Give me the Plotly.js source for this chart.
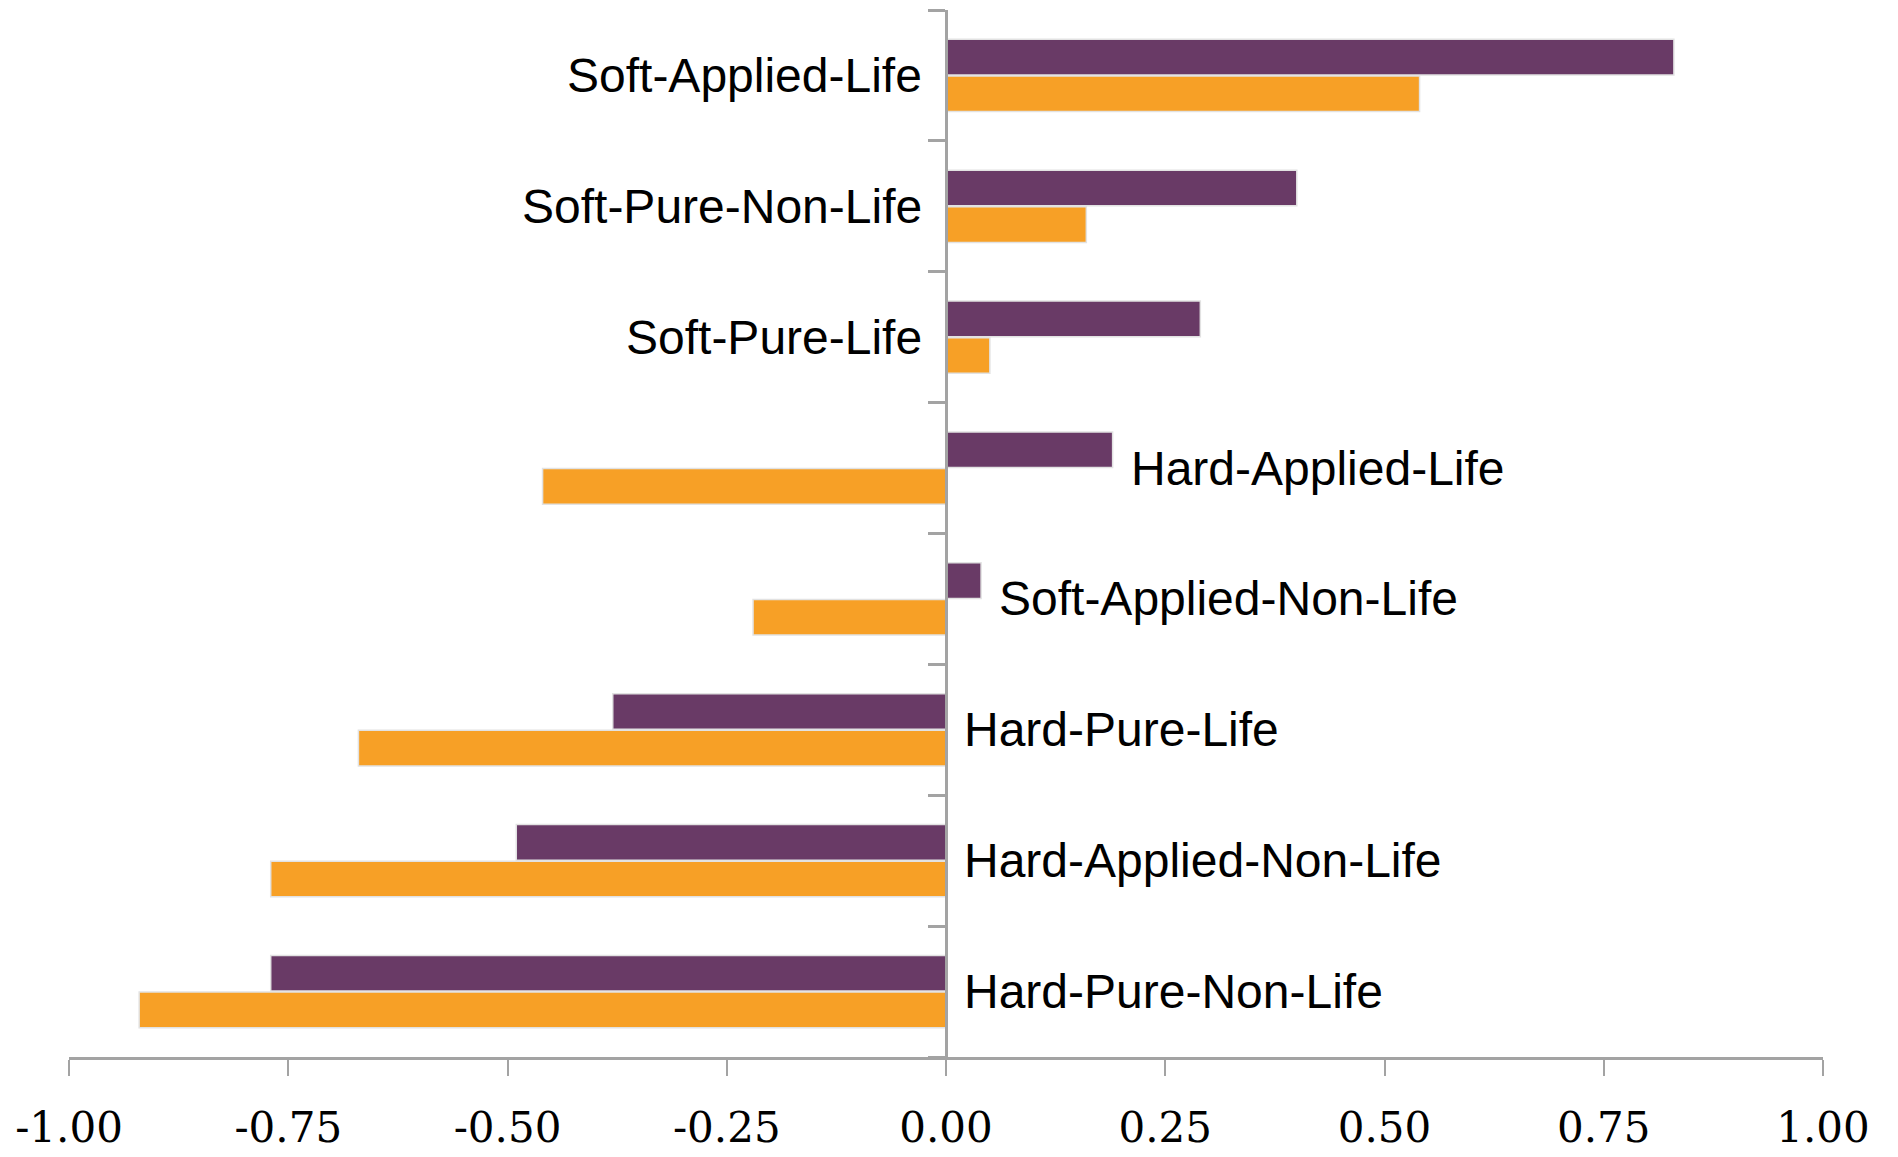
<!DOCTYPE html>
<html>
<head>
<meta charset="utf-8">
<script src="https://cdn.plot.ly/plotly-3.0.1.min.js"></script>
<style>
  html, body { margin: 0; padding: 0; background: #ffffff; }
  #chart { width: 1898px; height: 1157px; }
</style>
</head>
<body>
<div id="chart"></div>
<script>
// Categories, listed bottom to top
const categories = [
  "Hard-Pure-Non-Life",
  "Hard-Applied-Non-Life",
  "Hard-Pure-Life",
  "Soft-Applied-Non-Life",
  "Hard-Applied-Life",
  "Soft-Pure-Life",
  "Soft-Pure-Non-Life",
  "Soft-Applied-Life"
];
// Purple series (upper bar of each pair)
const purpleValues = [-0.77, -0.49, -0.38, 0.04, 0.19, 0.29, 0.40, 0.83];
// Orange series (lower bar of each pair)
const orangeValues = [-0.92, -0.77, -0.67, -0.22, -0.46, 0.05, 0.16, 0.54];
// X tick values and labels
const xTicks = [-1.00, -0.75, -0.50, -0.25, 0.00, 0.25, 0.50, 0.75, 1.00];
const xTickLabels = ["-1.00", "-0.75", "-0.50", "-0.25", "0.00", "0.25", "0.50", "0.75", "1.00"];

const PURPLE = "#693A66";
const ORANGE = "#F7A026";
const AXIS_GREY = "#a3a3a3";

const barLine = { color: "#e2e2e2", width: 1.5 };

const traces = [
  {
    type: "bar",
    orientation: "h",
    name: "Orange",
    y: categories,
    x: orangeValues,
    marker: { color: ORANGE, line: barLine },
    hoverinfo: "x+y"
  },
  {
    type: "bar",
    orientation: "h",
    name: "Purple",
    y: categories,
    x: purpleValues,
    marker: { color: PURPLE, line: barLine },
    hoverinfo: "x+y"
  }
];

// Category labels: left of the axis when both bars are positive,
// otherwise to the right of the purple bar (or of the axis).
const annotations = categories.map((c, i) => {
  const bothPositive = orangeValues[i] >= 0 && purpleValues[i] >= 0;
  return {
    x: bothPositive ? 0 : Math.max(0, purpleValues[i]),
    y: c,
    xref: "x",
    yref: "y",
    text: c,
    showarrow: false,
    xanchor: bothPositive ? "right" : "left",
    yanchor: "middle",
    xshift: bothPositive ? -22 : 16,
    font: { family: "Liberation Sans, Arial, sans-serif", size: 48, color: "#000000" }
  };
});

const layout = {
  width: 1898,
  height: 1157,
  margin: { l: 69, r: 75, t: 10, b: 100 },
  paper_bgcolor: "#ffffff",
  plot_bgcolor: "#ffffff",
  showlegend: false,
  barmode: "group",
  bargap: 0.44,
  bargroupgap: 0.03,
  xaxis: {
    range: [-1, 1],
    tickvals: xTicks,
    ticktext: xTickLabels,
    showgrid: false,
    zeroline: false,
    showline: true,
    linecolor: AXIS_GREY,
    linewidth: 3,
    ticks: "outside",
    ticklen: 16,
    tickwidth: 2,
    tickcolor: AXIS_GREY,
    ticklabelstandoff: 16,
    tickfont: { family: "DejaVu Serif, Liberation Serif, serif", size: 42, color: "#000000" },
    fixedrange: true
  },
  yaxis: {
    type: "category",
    categoryorder: "array",
    categoryarray: categories,
    range: [-0.5, categories.length - 0.5],
    anchor: "free",
    position: 0.5,
    showline: true,
    linecolor: AXIS_GREY,
    linewidth: 2.5,
    showgrid: false,
    zeroline: false,
    showticklabels: false,
    ticks: "outside",
    tickson: "boundaries",
    ticklen: 17,
    tickwidth: 3,
    tickcolor: AXIS_GREY,
    fixedrange: true
  },
  annotations: annotations
};

Plotly.newPlot("chart", traces, layout, { displayModeBar: false, responsive: false });
</script>
</body>
</html>
